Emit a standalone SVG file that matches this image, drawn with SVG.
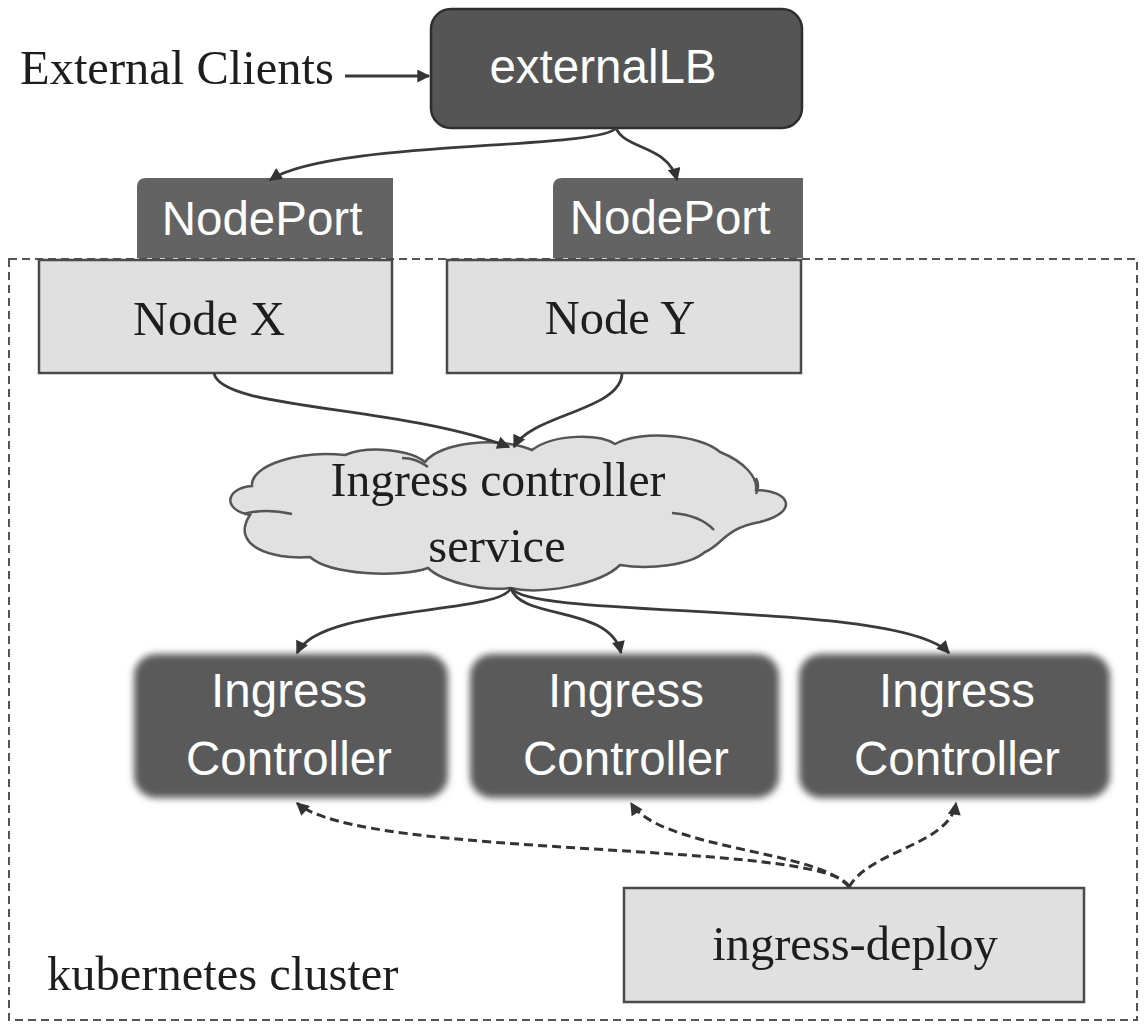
<svg xmlns="http://www.w3.org/2000/svg" width="1148" height="1030" viewBox="0 0 1148 1030">
<style>
.serif{font-family:"Liberation Serif","Times New Roman",serif;font-size:48.5px;fill:#1e1e1e}
.sans{font-family:"Liberation Sans",Arial,sans-serif;font-size:47.5px;fill:#ffffff}
.light{fill:#e0e0e0;stroke:#4a4a4a;stroke-width:2.5}
.conn{fill:none;stroke:#3a3a3a;stroke-width:2.8}
.dash{fill:none;stroke:#333;stroke-width:3;stroke-dasharray:9 5}
</style>
<defs>
<marker id="ah" viewBox="0 0 10 10" refX="9" refY="5" markerWidth="16" markerHeight="13" markerUnits="userSpaceOnUse" orient="auto">
<path d="M0,0 L10,5 L0,10 z" fill="#333"/>
</marker>
<filter id="soft" x="-10%" y="-10%" width="120%" height="120%">
<feGaussianBlur stdDeviation="3.5"/>
</filter>
</defs>
<rect width="1148" height="1030" fill="#ffffff"/>

<g id="cluster">
<rect x="9" y="259" width="1128" height="761" fill="none" stroke="#555" stroke-width="2" stroke-dasharray="8 5"/>
<text class="serif" x="47" y="990">kubernetes cluster</text>
</g>

<g id="external-clients">
<text class="serif" x="20" y="84">External Clients</text>
</g>

<g id="externalLB">
<rect x="431" y="9" width="371" height="119" rx="20" fill="#555" stroke="#2e2e2e" stroke-width="2.5"/>
<text class="sans" x="603" y="83" text-anchor="middle">externalLB</text>
</g>

<g id="nodeport-x">
<path d="M137,258 V187 Q137,178 146,178 H393 V258 Z" fill="#636363"/>
<text class="sans" x="262" y="235" text-anchor="middle">NodePort</text>
</g>
<g id="nodeport-y">
<path d="M553,258 V187 Q553,178 562,178 H803 V258 Z" fill="#636363"/>
<text class="sans" x="670" y="234" text-anchor="middle">NodePort</text>
</g>

<g id="node-x">
<rect class="light" x="39" y="260" width="353" height="113"/>
<text class="serif" x="209" y="335" text-anchor="middle">Node X</text>
</g>
<g id="node-y">
<rect class="light" x="447" y="260" width="354" height="113"/>
<text class="serif" x="620" y="334" text-anchor="middle">Node Y</text>
</g>

<g id="ingress-service">
<path d="M250,515 C222,510 225,488 252,486 C250,465 300,450 345,455 C370,445 410,450 425,462 C440,442 500,436 532,450 C555,433 600,434 615,444 C640,430 700,434 720,452 C745,462 758,478 756,490 C790,490 800,512 760,522 C725,528 722,545 705,552 C690,565 650,570 620,565 C600,585 540,595 510,588 C480,592 440,580 428,568 C400,578 330,575 310,557 C270,560 230,545 250,515 Z" fill="#e1e1e1" stroke="#555" stroke-width="2.5"/>
<path d="M244,514 Q265,508 292,514 M402,458 Q416,458 428,467 M672,513 Q700,515 714,530 M756,478 Q760,486 756,494" fill="none" stroke="#555" stroke-width="2.5"/>
<text class="serif" x="498" y="496" text-anchor="middle" textLength="335" lengthAdjust="spacingAndGlyphs">Ingress controller</text>
<text class="serif" x="497" y="562" text-anchor="middle">service</text>
</g>

<g id="ingress-controller-1">
<rect x="134" y="654" width="314" height="144" rx="22" fill="#5a5a5a" filter="url(#soft)"/>
<text class="sans" x="289" y="707" text-anchor="middle">Ingress</text>
<text class="sans" x="289" y="775" text-anchor="middle">Controller</text>
</g>
<g id="ingress-controller-2">
<rect x="470" y="654" width="309" height="144" rx="22" fill="#5a5a5a" filter="url(#soft)"/>
<text class="sans" x="626" y="707" text-anchor="middle">Ingress</text>
<text class="sans" x="626" y="775" text-anchor="middle">Controller</text>
</g>
<g id="ingress-controller-3">
<rect x="799" y="654" width="311" height="144" rx="22" fill="#5a5a5a" filter="url(#soft)"/>
<text class="sans" x="957" y="707" text-anchor="middle">Ingress</text>
<text class="sans" x="957" y="775" text-anchor="middle">Controller</text>
</g>

<g id="ingress-deploy">
<rect class="light" x="624" y="888" width="460" height="114"/>
<text class="serif" x="855" y="960" text-anchor="middle">ingress-deploy</text>
</g>

<g id="connectors">
<path class="conn" d="M345,76 L429,76" marker-end="url(#ah)"/>
<path class="conn" d="M616,128 C600,150 330,140 270,180" marker-end="url(#ah)"/>
<path class="conn" d="M616,128 C625,150 668,145 677,180" marker-end="url(#ah)"/>
<path class="conn" d="M214,373 C220,410 400,405 509,447" marker-end="url(#ah)"/>
<path class="conn" d="M622,373 C622,410 530,415 514,447" marker-end="url(#ah)"/>
<path class="conn" d="M511,588 C500,615 320,605 297,653" marker-end="url(#ah)"/>
<path class="conn" d="M511,588 C520,620 610,605 621,653" marker-end="url(#ah)"/>
<path class="conn" d="M511,588 C530,620 900,600 949,653" marker-end="url(#ah)"/>
<path class="dash" d="M849,887 C830,840 360,860 297,803" marker-end="url(#ah)"/>
<path class="dash" d="M849,887 C820,850 660,850 631,803" marker-end="url(#ah)"/>
<path class="dash" d="M849,887 C870,850 950,845 956,803" marker-end="url(#ah)"/>
</g>
</svg>
